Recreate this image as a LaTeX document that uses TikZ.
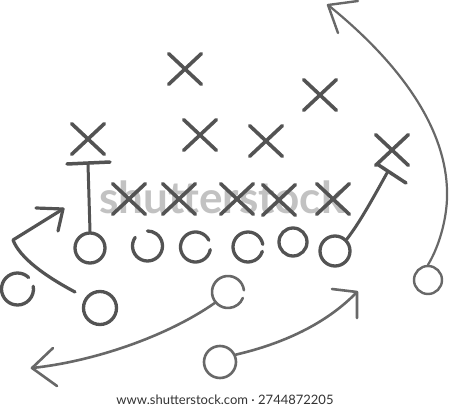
\documentclass[tikz,border=0pt]{standalone}
\usepackage{fontspec}
\setmainfont{Lato}
\usetikzlibrary{shapes.misc}
\definecolor{ink}{HTML}{535353}
\definecolor{ink2}{HTML}{686868}
\definecolor{wm}{HTML}{C2C2C2}
\begin{document}
\begin{tikzpicture}[x=1pt,y=-1pt,
  xmark/.style={cross out, draw=ink, line width=3.6pt, line cap=round, minimum width=29pt, minimum height=27pt, inner sep=0pt},
  player/.style={circle, draw=ink, line width=3.3pt, minimum size=30pt, inner sep=0pt},
  spot/.style={circle, minimum size=30pt, inner sep=0pt, outer sep=0pt},
  ring/.style={draw=ink, line width=3.3pt, line cap=round},
  route/.style={draw=ink2, line width=2.6pt, line cap=round, line join=round},
  bar/.style={draw=ink, line width=3.5pt, line cap=round},
]
\fill[white] (0,0) rectangle (450,409);
\useasboundingbox (0,0) rectangle (450,409);

% watermark
\node[anchor=base, text=wm, inner sep=0pt, font=\fontsize{44}{44}\selectfont\bfseries] (wmark) at (222,213) {shutterstock};

% defensive X marks
\node[xmark] (d1) at (185,69) {};
\node[xmark] (d2) at (320,95) {};
\node[xmark] (d3) at (200,135) {};
\node[xmark] (d4) at (266,141) {};
\node[xmark] (d5) at (88,139) {};
\node[xmark] (d6) at (392,150) {};
\node[xmark] (l1) at (129,199) {};
\node[xmark] (l2) at (179,199) {};
\node[xmark] (l3) at (237,199) {};
\node[xmark] (l4) at (279,200) {};
\node[xmark] (l5) at (333,199) {};

% offensive players
\node[player] (o1) at (90,248) {};
\node[spot] (o2) at (147.5,246) {};
\draw[ring] (o2.145) arc[start angle=145, end angle=450, radius=15pt];
\node[spot] (o3) at (195.5,247) {};
\draw[ring] (o3.27) arc[start angle=27, end angle=350, radius=15pt];
\node[spot] (o4) at (248,247) {};
\draw[ring] (o4.10) arc[start angle=10, end angle=343, radius=15pt];
\node[player, minimum size=28pt] (o5) at (293,242) {};
\node[player] (o6) at (335,251) {};
\node[spot, minimum size=32pt] (o7) at (17.5,289) {};
\draw[ring] (o7.46) arc[start angle=46, end angle=370, radius=16pt];
\node[player, minimum size=33pt] (o8) at (100,308) {};
\node[spot, minimum size=32pt] (o9) at (228,292) {};
\draw[ring, draw=ink2, line width=2.6pt] (o9.6) arc[start angle=6, end angle=338, radius=16pt];
\node[player, draw=ink2, line width=2.6pt, minimum size=32pt] (o10) at (220,362) {};
\node[player, draw=ink2, line width=2.4pt, minimum size=28pt] (o11) at (428,280) {};

% T blocks
\coordinate (tL1) at (67,164);
\coordinate (tL2) at (110,162);
\coordinate (tLm) at (88,164);
\draw[bar] (tL1) -- (tL2);
\draw[bar, line width=3pt] (tLm) -- (o1.north);

\coordinate (tR1) at (377,164);
\coordinate (tR2) at (406,183);
\coordinate (tRm) at (387,173);
\draw[bar] (tR1) -- (tR2);
\draw[bar, line width=3pt] (tRm) .. controls (372,200) and (360,222) .. (o6.north east);

% left short route
\coordinate (r1s) at (75,292);
\coordinate (r1k) at (13,240);
\coordinate (r1t) at (63,209);
\coordinate (r1a) at (36,208);
\coordinate (r1b) at (58,231);
\draw[route, draw=ink, line width=3.2pt] (r1s) .. controls (45,276) and (20,258) .. (r1k) -- (r1t);
\draw[route, draw=ink, line width=3.2pt] (r1a) -- (r1t) -- (r1b);

% long left arrow
\coordinate (r2t) at (32,368);
\coordinate (r2a) at (53,348);
\coordinate (r2b) at (57,386);
\draw[route] (o9.-140) .. controls (165,338) and (90,362) .. (r2t);
\draw[route] (r2a) -- (r2t) -- (r2b);

% lower right arrow
\coordinate (r3t) at (357,292);
\coordinate (r3a) at (332,289);
\coordinate (r3b) at (357,318);
\draw[route] (o10.25) .. controls (290,342) and (330,320) .. (r3t);
\draw[route] (r3a) -- (r3t) -- (r3b);

% big right arrow
\coordinate (r4m) at (447,190);
\coordinate (r4t) at (328,5);
\coordinate (r4a) at (358,1);
\coordinate (r4b) at (338,33);
\draw[route, line width=2.2pt] (o11.north) .. controls (440,245) and (448,215) .. (r4m) .. controls (445,120) and (390,55) .. (r4t);
\draw[route, line width=2.4pt] (r4a) -- (r4t) -- (r4b);

% credit line
\node[anchor=base, text=black!80, inner sep=0pt, font=\fontsize{13}{14}\selectfont] (credit) at (225,404) {www.shutterstock.com · 2744872205};
\end{tikzpicture}
\end{document}
